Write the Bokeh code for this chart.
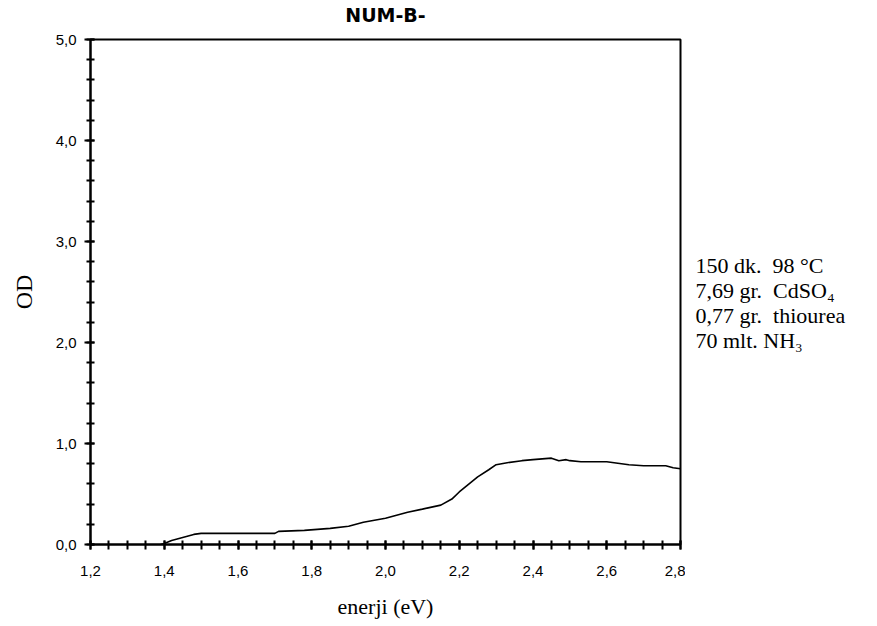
from bokeh.plotting import figure
from bokeh.layouts import row
from bokeh.models import FixedTicker, CustomJSTickFormatter, Range1d, LinearAxis
from bokeh.core.properties import value
from bokeh.embed import file_html
from bokeh.resources import INLINE

energy = [1.39, 1.40, 1.42, 1.44, 1.46, 1.48, 1.50, 1.60, 1.70, 1.71, 1.78, 1.85, 1.90,
          1.94, 2.00, 2.03, 2.06, 2.10, 2.15, 2.18, 2.20, 2.22, 2.25, 2.28, 2.30, 2.33,
          2.37, 2.40, 2.45, 2.47, 2.49, 2.50, 2.53, 2.60, 2.64, 2.66, 2.70, 2.76, 2.78, 2.80]
od = [0.0, 0.01, 0.04, 0.06, 0.08, 0.10, 0.11, 0.11, 0.11, 0.13, 0.14, 0.16, 0.18,
      0.22, 0.26, 0.29, 0.32, 0.35, 0.39, 0.45, 0.52, 0.58, 0.67, 0.74, 0.79, 0.81,
      0.83, 0.84, 0.855, 0.83, 0.84, 0.83, 0.82, 0.82, 0.80, 0.79, 0.78, 0.78, 0.76, 0.75]

x_major = [1.2, 1.4, 1.6, 1.8, 2.0, 2.2, 2.4, 2.6, 2.8]
x_minor = [1.2 + 0.05 * i for i in range(33)]
y_major = [0.0, 1.0, 2.0, 3.0, 4.0, 5.0]
y_minor = [0.2 * i for i in range(26)]

title_text = "NUM-B-"
x_label = "enerji (eV)"
y_label = "OD"
notes = ["150 dk.\u00a0 98 °C", "7,69 gr.\u00a0 CdSO\u2084", "0,77 gr.\u00a0 thiourea", "70 mlt. NH\u2083"]

p = figure(width=685, height=610, output_backend="svg", toolbar_location=None,
           x_range=Range1d(1.2, 2.8), y_range=Range1d(0.0, 5.0),
           frame_width=590, frame_height=505,
           min_border_left=90, min_border_top=36, min_border_right=5, min_border_bottom=69)

xax = p.below[0]
yax = p.left[0]

p.xgrid.visible = False
p.ygrid.visible = False
p.outline_line_color = "black"
p.outline_line_width = 2
p.outline_line_alpha = 1.0

fmt = CustomJSTickFormatter(code="return tick.toFixed(1).replace('.', ',');")

for ax in (xax, yax):
    ax.formatter = fmt
    ax.axis_line_width = 2
    ax.axis_line_color = "black"
    ax.major_tick_line_width = 2
    ax.minor_tick_line_width = 2
    ax.major_tick_line_color = "black"
    ax.minor_tick_line_color = "black"
    ax.major_label_text_font = "Liberation Sans"
    ax.major_label_text_font_size = "15px"
    ax.major_label_text_color = "black"
    ax.axis_label_text_font = "Liberation Serif"
    ax.axis_label_text_font_style = "normal"
    ax.axis_label_text_color = "black"

xax.axis_label_text_font_size = "22px"
yax.axis_label_text_font_size = "24px"
xax.ticker = FixedTicker(ticks=x_major, minor_ticks=x_minor)
yax.ticker = FixedTicker(ticks=y_major, minor_ticks=y_minor)
xax.major_tick_in = 4
xax.major_tick_out = 5
xax.minor_tick_in = 4
xax.minor_tick_out = 5
yax.major_tick_in = 4
yax.major_tick_out = 6
yax.minor_tick_in = 4
yax.minor_tick_out = 4
xax.major_label_standoff = 16
yax.major_label_standoff = 8
xax.axis_label = x_label
yax.axis_label = y_label
xax.axis_label_standoff = 15
yax.axis_label_standoff = 16

# chart title drawn as the label of an empty top axis (precise placement)
top_axis = LinearAxis(ticker=FixedTicker(ticks=[]), axis_label=title_text,
                      axis_line_color=None, major_tick_line_color=None,
                      minor_tick_line_color=None, major_tick_out=0, minor_tick_out=0,
                      major_tick_in=0, minor_tick_in=0, major_label_standoff=0,
                      axis_label_text_font="DejaVu Sans", axis_label_text_font_size="19px",
                      axis_label_text_font_style="bold", axis_label_text_color="black",
                      axis_label_standoff=14)
p.add_layout(top_axis, "above")

p.line(energy, od, line_color="black", line_width=1.6)

# side panel with the experiment notes (panel coordinates in pixels from bottom)
side = figure(width=175, height=610, output_backend="svg", toolbar_location=None,
              x_range=Range1d(0, 175), y_range=Range1d(0, 610),
              x_axis_location=None, y_axis_location=None,
              frame_width=175, frame_height=610,
              min_border=0, outline_line_color=None)
side.grid.visible = False
note_x = [10, 10, 10, 10]
note_y = [384, 359, 334, 309]
side.text(x=note_x, y=note_y, text=notes, text_font=value("Liberation Serif"),
          text_font_size="22px", text_color="black",
          text_baseline="middle", text_align="left")

open("out.html", "w").write(file_html(row(p, side), INLINE))
